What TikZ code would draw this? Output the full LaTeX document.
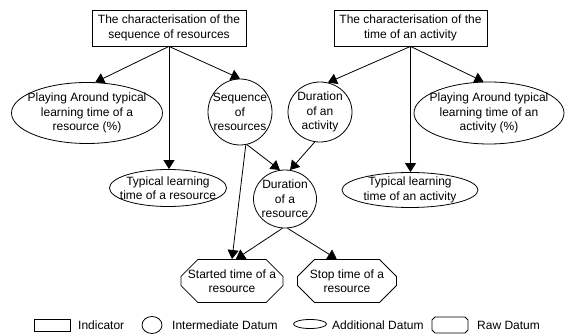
\documentclass[tikz,border=0pt]{standalone}
\usepackage{fontspec}
\setmainfont{Liberation Sans}
\usetikzlibrary{shapes.geometric,shapes.misc,arrows.meta}
\tikzset{
  base/.style={draw, line width=0.8pt, align=center, font=\fontsize{12}{14.3}\selectfont},
  indic/.style={base, rectangle, inner sep=1pt},
  oval/.style={base, ellipse, inner sep=-8pt},
  rawd/.style={base, chamfered rectangle, chamfered rectangle xsep=7pt, chamfered rectangle ysep=10pt, inner sep=0pt},
  legtxt/.style={anchor=west, inner sep=0pt, font=\fontsize{12}{14.3}\selectfont},
  arr/.style={line width=0.8pt, -{Triangle[length=9pt,width=11pt]}}
}
\begin{document}
\begin{tikzpicture}[x=1pt,y=-1pt]
\useasboundingbox (0,0) rectangle (565,336);
% indicators
\node[indic, minimum width=154pt, minimum height=36pt] (box1) at (169,28) {The characterisation of the\\sequence of resources};
\node[indic, minimum width=153pt, minimum height=36pt] (box2) at (410.5,28) {The characterisation of the\\time of an activity};
% additional / intermediate data
\node[oval, minimum width=151pt, minimum height=61pt] (playres) at (87,113) {Playing Around typical\\learning time of a\\resource (\%)};
\node[oval, minimum width=64pt, minimum height=66pt] (seq) at (240,112) {Sequence\\of\\resources};
\node[oval, minimum width=64pt, minimum height=60pt] (duract) at (320,112) {Duration\\of an\\activity};
\node[oval, minimum width=150pt, minimum height=62pt] (playact) at (489,113) {Playing Around typical\\learning time of an\\activity (\%)};
\node[oval, minimum width=117pt, minimum height=37pt] (typres) at (168,188) {Typical learning\\time of a resource};
\node[oval, minimum width=63pt, minimum height=58pt] (durres) at (285,199) {Duration\\of a\\resource};
\node[oval, minimum width=136pt, minimum height=35pt] (typact) at (410,190) {Typical learning\\time of an activity};
% raw data
\node[rawd, minimum width=100pt, minimum height=40pt] (started) at (232,281) {Started time of a\\resource};
\node[rawd, minimum width=99pt, minimum height=40pt] (stop) at (347,281) {Stop time of a\\resource};
% connectors
\draw[arr] (box1.south) -- (playres.75);
\draw[arr] (box1.south) -- (box1.south |- typres.north);
\draw[arr] (box1.south) -- (seq.north);
\draw[arr] (box2.south) -- (duract.75);
\draw[arr] (box2.south) -- (box2.south |- typact.north);
\draw[arr] (box2.south) -- (playact.100);
\draw[arr] (seq.-78) -- (durres.100);
\draw[arr] (duract.-100) -- (durres.80);
\draw[arr] (seq.-80) -- (started.north);
\draw[arr] (durres.-95) -- (started.80);
\draw[arr] (durres.-85) -- (stop.115);
% legend
\node[indic, minimum width=36pt, minimum height=12pt, inner sep=0pt] (lg1) at (52,325) {};
\node[legtxt] (lg1t) at (78,325) {Indicator};
\node[base, ellipse, inner sep=0pt, minimum width=20pt, minimum height=17pt] (lg2) at (152,325) {};
\node[legtxt] (lg2t) at (172,325) {Intermediate Datum};
\node[base, ellipse, inner sep=0pt, minimum width=33pt, minimum height=9pt] (lg3) at (310,324) {};
\node[legtxt] (lg3t) at (332,325) {Additional Datum};
\node[base, chamfered rectangle, chamfered rectangle xsep=5pt, chamfered rectangle ysep=7pt, inner sep=0pt, minimum width=36pt, minimum height=16pt, font=\tiny] (lg4) at (450,325) {\strut};
\node[legtxt] (lg4t) at (477,325) {Raw Datum};
\end{tikzpicture}
\end{document}
